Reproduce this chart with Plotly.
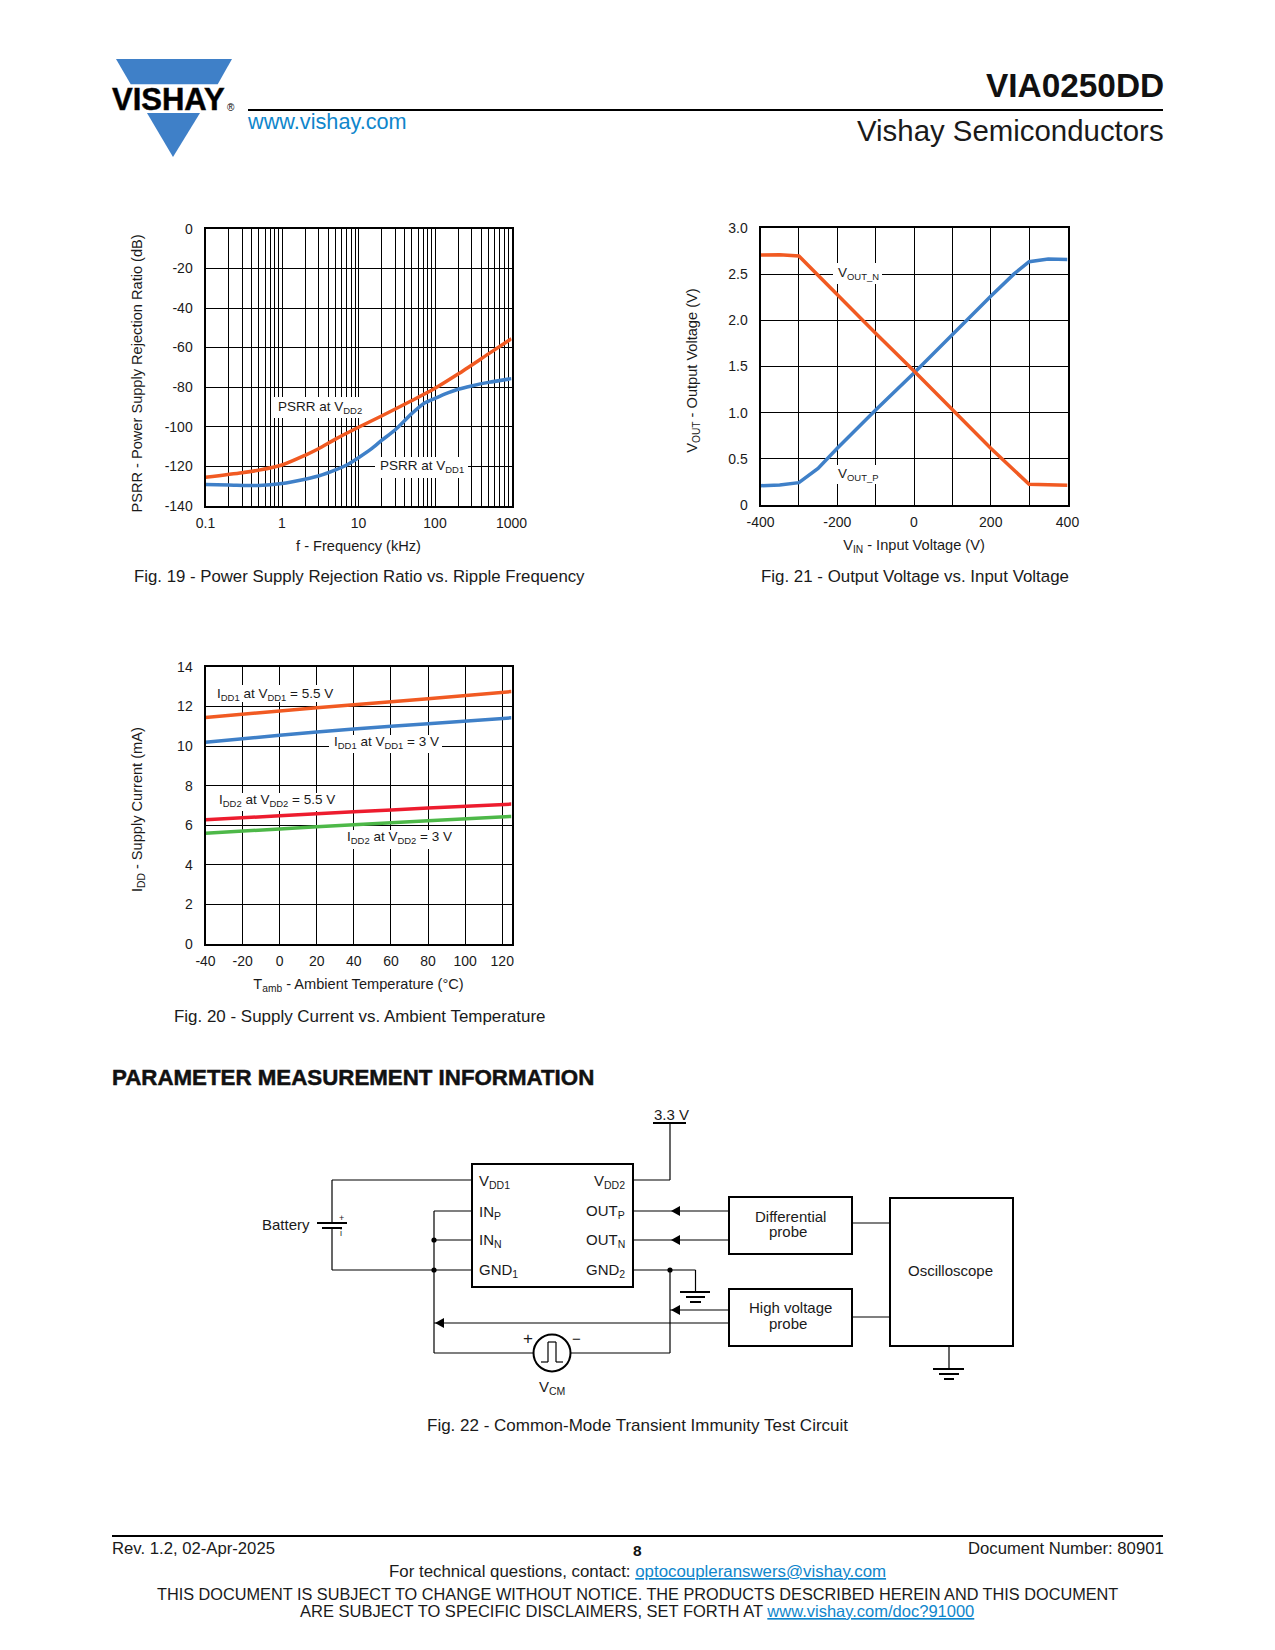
import plotly.graph_objects as go

W, H = 1275, 1650
FONT = "Liberation Sans"
ORANGE, BLUE, RED, GREEN = "#F15A22", "#3F80C8", "#ED1C2E", "#4DB848"
LINK = "#0E86CC"

# ---- Fig. 19 ----
f_orange = [0.1, 0.3, 0.5, 1, 2, 3, 5, 10, 20, 50, 100, 200, 500, 1000]
psrr_vdd2 = [-125.6, -123.3, -122, -119.4, -114.5, -111.2, -106.3, -100.3, -94.6, -86.8, -80.6, -73.4, -63.2, -55.5]
f_blue = [0.1, 0.2, 0.5, 1, 2, 3, 5, 7, 10, 15, 20, 30, 50, 70, 100, 150, 200, 300, 500, 1000]
psrr_vdd1 = [-129.3, -129.5, -129.8, -128.8, -126.6, -125, -121.9, -119.4, -115.7, -111, -107, -101.7, -93.3, -88.5, -85.7, -82.8, -81.1, -79.4, -77.6, -75.7]
f_ticks = [0.1, 1, 10, 100, 1000]
f_ticktext = ["0.1", "1", "10", "100", "1000"]
f_minor = [2, 3, 4, 5, 6, 7, 8, 9]
psrr_ticks = [0, -20, -40, -60, -80, -100, -120, -140]
psrr_ticktext = ["0", "-20", "-40", "-60", "-80", "-100", "-120", "-140"]

# ---- Fig. 21 ----
vin_n = [-400, -350, -300, -200, -100, 0, 100, 200, 300, 350, 400]
vout_n = [2.707, 2.71, 2.696, 2.274, 1.86, 1.45, 1.03, 0.614, 0.224, 0.217, 0.213]
vin_p = [-400, -350, -300, -250, -200, -100, 0, 100, 200, 260, 300, 350, 400]
vout_p = [0.209, 0.217, 0.242, 0.397, 0.614, 1.03, 1.43, 1.85, 2.26, 2.5, 2.635, 2.664, 2.66]
vin_ticks = [-400, -200, 0, 200, 400]
vin_minor = [-300, -100, 100, 300]
vout_ticks = [0, 0.5, 1, 1.5, 2, 2.5, 3]
vout_ticktext = ["0", "0.5", "1.0", "1.5", "2.0", "2.5", "3.0"]

# ---- Fig. 20 ----
temp = [-40, 0, 40, 80, 125]
idd1_55 = [11.45, 11.78, 12.09, 12.39, 12.76]
idd1_3 = [10.2, 10.55, 10.87, 11.13, 11.43]
idd2_55 = [6.28, 6.48, 6.68, 6.87, 7.07]
idd2_3 = [5.6, 5.81, 6.03, 6.23, 6.45]
temp_ticks = [-40, -20, 0, 20, 40, 60, 80, 100, 120]
idd_ticks = [0, 2, 4, 6, 8, 10, 12, 14]


def px(x):
    return x / W


def py(y):
    return 1 - y / H


def dom(a, b, size):
    return [a / size, b / size]


def ydom(top, bottom):
    return [1 - bottom / H, 1 - top / H]


tf = dict(family=FONT, size=14, color="#1a1a1a")
ttf = dict(family=FONT, size=14.6, color="#1a1a1a")
grid = dict(showgrid=True, gridcolor="black", gridwidth=1, zeroline=False,
            showline=True, linecolor="black", linewidth=2, mirror=True,
            ticks="outside", tickcolor="rgba(0,0,0,0)", tickfont=tf, automargin=False)

fig = go.Figure()


def line(x, y, color, xa, ya, name):
    fig.add_trace(go.Scatter(x=x, y=y, mode="lines", name=name, xaxis=xa, yaxis=ya,
                             line=dict(color=color, width=3.5, shape="spline", smoothing=0.7),
                             showlegend=False, hoverinfo="skip"))


line(f_blue, psrr_vdd1, BLUE, "x", "y", "PSRR at VDD1")
line(f_orange, psrr_vdd2, ORANGE, "x", "y", "PSRR at VDD2")
fig.add_trace(go.Scatter(x=vin_p, y=vout_p, mode="lines", xaxis="x2", yaxis="y2", name="VOUT_P",
                         line=dict(color=BLUE, width=3.5), showlegend=False, hoverinfo="skip"))
fig.add_trace(go.Scatter(x=vin_n, y=vout_n, mode="lines", xaxis="x2", yaxis="y2", name="VOUT_N",
                         line=dict(color=ORANGE, width=3.5), showlegend=False, hoverinfo="skip"))
line(temp, idd1_55, ORANGE, "x3", "y3", "IDD1 5.5 V")
line(temp, idd1_3, BLUE, "x3", "y3", "IDD1 3 V")
line(temp, idd2_55, RED, "x3", "y3", "IDD2 5.5 V")
line(temp, idd2_3, GREEN, "x3", "y3", "IDD2 3 V")

minor_log = [m * 10 ** e for e in (-1, 0, 1, 2) for m in f_minor]


def tail(n):
    return "\u00a0" * n + "\u200b"


BOX1 = (205.5, 511.5, 229, 505.7)
BOX2 = (760.5, 1067.5, 228, 505)
BOX3 = (205.5, 511.5, 667, 944)

fig.update_layout(
    width=W, height=H, margin=dict(l=0, r=0, t=0, b=0), autosize=False,
    paper_bgcolor="white", plot_bgcolor="white", showlegend=False, hovermode=False,
    font=dict(family=FONT, color="#1a1a1a"),
    xaxis=dict(domain=dom(BOX1[0], BOX1[1], W), type="log", range=[-1, 3], anchor="y",
               tickmode="array", tickvals=f_ticks, ticktext=f_ticktext, ticklen=3,
               minor=dict(tickmode="array", tickvals=minor_log, showgrid=True,
                          gridcolor="black", gridwidth=1, ticks=""),
               title=dict(text="f - Frequency (kHz)", font=ttf, standoff=11), **grid),
    yaxis=dict(domain=ydom(BOX1[2], BOX1[3]), range=[-140, 0], anchor="x",
               tickmode="array", tickvals=psrr_ticks, ticktext=psrr_ticktext, ticklen=8,
               title=dict(text="PSRR - Power Supply Rejection Ratio (dB)" + tail(3), font=ttf, standoff=19), **grid),
    xaxis2=dict(domain=dom(BOX2[0], BOX2[1], W), range=[-400, 400], anchor="y2",
                tickmode="array", tickvals=vin_ticks, ticktext=[str(v) for v in vin_ticks], ticklen=3,
                minor=dict(tickmode="array", tickvals=vin_minor, showgrid=True,
                           gridcolor="black", gridwidth=1, ticks=""),
                title=dict(text="V<sub>IN</sub> - Input Voltage (V)", font=ttf, standoff=11), **grid),
    yaxis2=dict(domain=ydom(BOX2[2], BOX2[3]), range=[0, 3], anchor="x2",
                tickmode="array", tickvals=vout_ticks, ticktext=vout_ticktext, ticklen=8,
                title=dict(text="V<sub>OUT</sub> - Output Voltage (V)" + tail(2), font=ttf, standoff=27), **grid),
    xaxis3=dict(domain=dom(BOX3[0], BOX3[1], W), range=[-40, 125], anchor="y3",
                tickmode="array", tickvals=temp_ticks, ticktext=[str(v) for v in temp_ticks], ticklen=3,
                title=dict(text="T<sub>amb</sub> - Ambient Temperature (°C)", font=ttf, standoff=11), **grid),
    yaxis3=dict(domain=ydom(BOX3[2], BOX3[3]), range=[0, 14], anchor="x3",
                tickmode="array", tickvals=idd_ticks, ticktext=[str(v) for v in idd_ticks], ticklen=8,
                title=dict(text="I<sub>DD</sub> - Supply Current (mA)" + tail(2), font=ttf, standoff=31), **grid),
)

shapes = []
ann = []


def seg(x0, y0, x1, y1, w=1.2, color="black"):
    shapes.append(dict(type="line", xref="paper", yref="paper", x0=px(x0), y0=py(y0), x1=px(x1), y1=py(y1),
                       line=dict(color=color, width=w)))


def rect(x0, y0, x1, y1, w=2):
    shapes.append(dict(type="rect", xref="paper", yref="paper", x0=px(x0), y0=py(y0), x1=px(x1), y1=py(y1),
                       line=dict(color="black", width=w), fillcolor="white"))


def poly(pts, color="black"):
    d = "M " + " L ".join(f"{px(a):.5f},{py(b):.5f}" for a, b in pts) + " Z"
    shapes.append(dict(type="path", xref="paper", yref="paper", path=d, fillcolor=color, line=dict(width=0)))


def dot(x, y, r=2.6):
    shapes.append(dict(type="circle", xref="paper", yref="paper", x0=px(x - r), y0=py(y - r), x1=px(x + r), y1=py(y + r),
                       fillcolor="black", line=dict(width=0)))


def mask(xa, ya, box, xr, yr, x0, x1, y0, y1, logx=False):
    # white patch over the grid, under the curves, given in page pixels
    def xv(p):
        v = xr[0] + (p - box[0]) / (box[1] - box[0]) * (xr[1] - xr[0])
        return 10 ** v if logx else v

    def yv(p):
        return yr[0] + (box[3] - p) / (box[3] - box[2]) * (yr[1] - yr[0])

    shapes.append(dict(type="rect", xref=xa, yref=ya, layer="between",
                       x0=xv(x0), x1=xv(x1), y0=yv(y1), y1=yv(y0),
                       fillcolor="white", line=dict(width=0)))


def text(x, y, s, size=14, anchor="center", color="#1a1a1a", family=FONT):
    ann.append(dict(xref="paper", yref="paper", x=px(x), y=py(y), text=s, showarrow=False, xanchor=anchor, yanchor="middle",
                    font=dict(family=family, size=size, color=color)))


HEAVY = '<span style="stroke:#111;stroke-width:0.5px">'

# header
poly([(116, 59), (232, 59), (217.7, 84.3), (130.7, 84.3)], BLUE)
poly([(147, 113), (200, 113), (173, 157)], BLUE)
text(168.5, 99, f"<b>{HEAVY}VISHAY</span></b>", 31, color="black")
text(231, 108, "®", 10, color="black")
seg(248, 110, 1163, 110, 2)
text(245, 121.5, "www.vishay.com", 21.7, "left", LINK)
text(1166, 85, "<b>VIA0250DD</b>", 33.4, "right", "#111")
text(1166, 130.5, "Vishay Semiconductors", 29.4, "right")

# chart labels
mask("x", "y", BOX1, (-1, 3), (-140, 0), 273, 367, 397, 418, logx=True)
mask("x", "y", BOX1, (-1, 3), (-140, 0), 375, 468, 457, 478, logx=True)
mask("x2", "y2", BOX2, (-400, 400), (0, 3), 833, 882, 263, 284)
mask("x2", "y2", BOX2, (-400, 400), (0, 3), 835, 880, 465, 484)
mask("x3", "y3", BOX3, (-40, 125), (0, 14), 215, 335, 685, 702)
mask("x3", "y3", BOX3, (-40, 125), (0, 14), 329, 442, 735, 753)
mask("x3", "y3", BOX3, (-40, 125), (0, 14), 217, 337, 793, 811)
mask("x3", "y3", BOX3, (-40, 125), (0, 14), 345, 453, 830, 849)
text(320, 407, "PSRR at V<sub>DD2</sub>", 13.5)
text(422, 467, "PSRR at V<sub>DD1</sub>", 13.5)
text(858, 273, "V<sub>OUT_N</sub>", 13.5)
text(858, 474, "V<sub>OUT_P</sub>", 13.5)
text(275, 695, "I<sub>DD1</sub> at V<sub>DD1</sub> = 5.5 V", 13.5)
text(386, 742, "I<sub>DD1</sub> at V<sub>DD1</sub> = 3 V", 13.5)
text(277, 800, "I<sub>DD2</sub> at V<sub>DD2</sub> = 5.5 V", 13.5)
text(399, 837, "I<sub>DD2</sub> at V<sub>DD2</sub> = 3 V", 13.5)

# captions
text(359.5, 577, "Fig. 19 - Power Supply Rejection Ratio vs. Ripple Frequency", 16.8)
text(915, 577, "Fig. 21 - Output Voltage vs. Input Voltage", 16.9)
text(360, 1016, "Fig. 20 - Supply Current vs. Ambient Temperature", 16.95)
text(637, 1425, "Fig. 22 - Common-Mode Transient Immunity Test Circuit", 17)
text(110, 1077.5, f"<b>{HEAVY}PARAMETER MEASUREMENT INFORMATION</span></b>", 22.3, "left", "#111")

# circuit wires
seg(332, 1180, 472, 1180)
seg(332, 1180, 332, 1223)
seg(332, 1228, 332, 1270)
seg(332, 1270, 472, 1270)
seg(317, 1223, 347, 1223, 2)
seg(322, 1228, 342, 1228, 2)
seg(434, 1211, 472, 1211)
seg(434, 1240, 472, 1240)
seg(434, 1211, 434, 1353)
seg(434, 1353, 670, 1353)
seg(670, 1270, 670, 1353)
seg(632, 1180, 670, 1180)
seg(670, 1123, 670, 1180)
seg(653, 1123, 686, 1123, 2)
seg(632, 1211, 729, 1211)
seg(632, 1240, 729, 1240)
seg(632, 1270, 695.5, 1270)
seg(695.5, 1270, 695.5, 1292)
seg(680, 1292, 710, 1292, 2)
seg(686, 1297, 705, 1297, 2)
seg(690, 1302, 701, 1302, 2)
seg(670, 1310, 729, 1310)
seg(434, 1323, 729, 1323)
seg(852, 1223, 890, 1223)
seg(852, 1317, 890, 1317)
seg(949, 1346, 949, 1369)
seg(933, 1369, 964, 1369, 2)
seg(939, 1374, 959, 1374, 2)
seg(944, 1379, 954, 1379, 2)
rect(472, 1164, 633, 1287)
rect(729, 1197, 852, 1254)
rect(729, 1289, 852, 1346)
rect(890, 1198, 1013, 1346)
poly([(671, 1211), (680, 1206), (680, 1216)])
poly([(671, 1240), (680, 1235), (680, 1245)])
poly([(671, 1310), (680, 1305), (680, 1315)])
poly([(435, 1323), (444, 1318), (444, 1328)])
dot(434, 1240)
dot(434, 1270)
dot(670, 1270)
shapes.append(dict(type="circle", xref="paper", yref="paper", x0=px(533.5), y0=py(1334.5), x1=px(570.5), y1=py(1371.5),
                   fillcolor="white", line=dict(color="black", width=2)))
seg(541, 1362, 548, 1362)
seg(548, 1362, 548, 1342)
seg(548, 1342, 556, 1342)
seg(556, 1342, 556, 1362)
seg(556, 1362, 563, 1362)

text(671, 1114, "3.3 V", 15)
text(286, 1224, "Battery", 15)
text(341, 1218, "+", 9)
text(341, 1233, "i", 9)
text(477, 1181, "V<sub>DD1</sub>", 15, "left")
text(477, 1212, "IN<sub>P</sub>", 15, "left")
text(477, 1240, "IN<sub>N</sub>", 15, "left")
text(477, 1270, "GND<sub>1</sub>", 15, "left")
text(627, 1181, "V<sub>DD2</sub>", 15, "right")
text(627, 1211, "OUT<sub>P</sub>", 15, "right")
text(627, 1240, "OUT<sub>N</sub>", 15, "right")
text(627, 1270, "GND<sub>2</sub>", 15, "right")
text(790, 1216, "Differential", 15)
text(788, 1231, "probe", 15)
text(790, 1307, "High voltage", 15)
text(788, 1323, "probe", 15)
text(950, 1270, "Oscilloscope", 15)
text(528, 1338, "+", 17)
text(576, 1338, "−", 15)
text(552, 1387, "V<sub>CM</sub>", 15)

# footer
seg(112, 1536, 1163, 1536, 2.2)
text(110, 1548.5, "Rev. 1.2, 02-Apr-2025", 16.7, "left")
text(1166, 1548.5, "Document Number: 80901", 16.7, "right")
text(637, 1550, "<b>8</b>", 15.5, color="#111")
UL = f'<span style="color:{LINK};text-decoration:underline">'
text(637, 1571, f"For technical questions, contact: {UL}optocoupleranswers@vishay.com</span>", 16.85)
text(637, 1594, "THIS DOCUMENT IS SUBJECT TO CHANGE WITHOUT NOTICE. THE PRODUCTS DESCRIBED HEREIN AND THIS DOCUMENT", 16.3)
text(637, 1611, f"ARE SUBJECT TO SPECIFIC DISCLAIMERS, SET FORTH AT {UL}www.vishay.com/doc?91000</span>", 16.5)

fig.update_layout(shapes=shapes, annotations=ann)
fig.write_html("out.html", config=dict(displayModeBar=False),
               post_script="document.body.style.margin='0';document.body.style.overflow='hidden';")
